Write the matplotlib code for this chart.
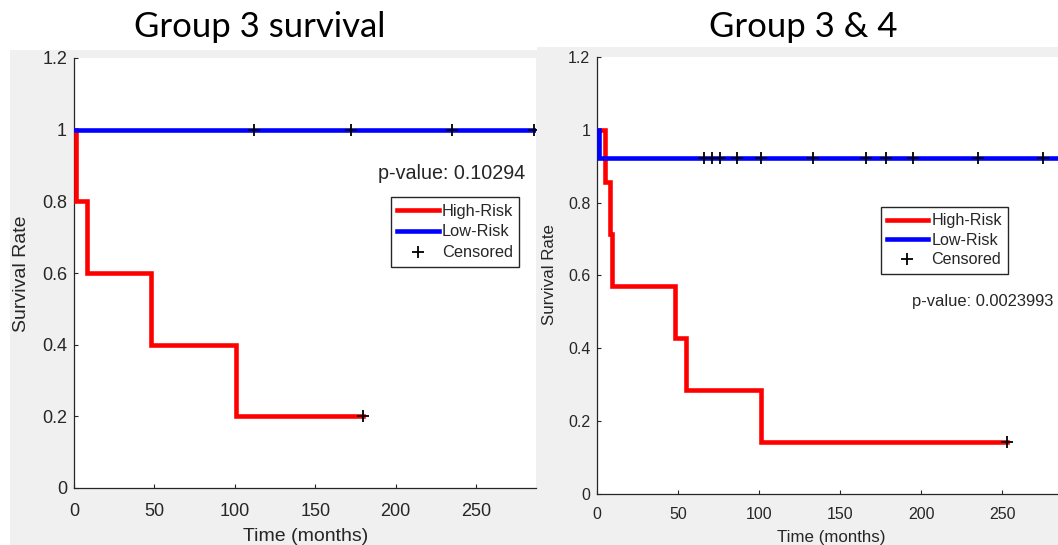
import matplotlib
matplotlib.use("Agg")
import matplotlib.pyplot as plt
from matplotlib.patches import Rectangle
from matplotlib.lines import Line2D

# Group 3 (left panel) - Kaplan-Meier steps
g3_high_times = [0, 1, 8, 48, 101]
g3_high_surv = [1.0, 0.8, 0.6, 0.4, 0.2]
g3_high_cens = [180]
g3_low_times = [0]
g3_low_surv = [1.0]
g3_low_cens = [112, 172, 235, 286]
g3_pvalue = "p-value: 0.10294"

# Group 3 & 4 (right panel)
g34_high_times = [0, 5, 8, 9, 48, 55, 101]
g34_high_surv = [1.0, 0.857, 0.714, 0.571, 0.429, 0.286, 0.143]
g34_high_cens = [253]
g34_low_times = [0, 1]
g34_low_surv = [1.0, 0.923]
g34_low_cens = [66, 71, 76, 86, 101, 133, 166, 178, 195, 235, 275, 290]
g34_pvalue = "p-value: 0.0023993"

xticks = [0, 50, 100, 150, 200, 250]
yticks = [0, 0.2, 0.4, 0.6, 0.8, 1.0, 1.2]
ytick_labels = ["0", "0.2", "0.4", "0.6", "0.8", "1", "1.2"]
legend_labels = ["High-Risk", "Low-Risk", "Censored"]

W, H = 1058, 545
GRAY = "#f0f0f0"
TXT = "#262626"
LW = 3.3
plt.rcParams["font.family"] = ["Liberation Sans", "DejaVu Sans"]


def km_curve(ax, times, surv, cens, color):
    end = max(cens)
    ax.step(times + [end], surv + [surv[-1]], where="post", color=color,
            lw=LW, solid_joinstyle="miter", zorder=3)
    cy = [surv[max(i for i, t in enumerate(times) if t <= c)] for c in cens]
    ax.plot(cens, cy, ls="none", marker="+", color="k", ms=8.5, mew=1.3, zorder=4)


def setup_panel(ax, xmax, fs_tick, fs_label, xpad, xlab_pos, ylab_pos):
    ax.set_xlim(0, xmax)
    ax.set_ylim(0, 1.2)
    ax.set_facecolor("white")
    for s in ["top", "right"]:
        ax.spines[s].set_visible(False)
    for s in ["left", "bottom"]:
        ax.spines[s].set_color(TXT)
        ax.spines[s].set_linewidth(0.9)
    ax.set_xticks(xticks)
    ax.set_yticks(yticks)
    ax.set_yticklabels(ytick_labels)
    ax.tick_params(direction="in", length=3, width=0.8, colors=TXT,
                   labelsize=fs_tick)
    ax.tick_params(axis="x", pad=xpad)
    ax.tick_params(axis="y", pad=5)
    ax.set_xlabel("Time (months)", fontsize=fs_label, color=TXT)
    ax.set_ylabel("Survival Rate", fontsize=fs_label, color=TXT)
    ax.xaxis.label.set_verticalalignment("center")
    ax.yaxis.label.set_verticalalignment("center")
    ax.xaxis.set_label_coords(*xlab_pos)
    ax.yaxis.set_label_coords(*ylab_pos)


def add_legend(ax, anchor, fs, spacing):
    handles = [Line2D([], [], color="red", lw=LW),
               Line2D([], [], color="blue", lw=LW),
               Line2D([], [], ls="none", marker="+", color="k", ms=8.5, mew=1.3)]
    leg = ax.legend(handles, legend_labels, loc="upper left",
                    bbox_to_anchor=anchor, bbox_transform=ax.figure.transFigure,
                    borderaxespad=0, fancybox=False, framealpha=1,
                    edgecolor=TXT, fontsize=fs, handlelength=2.55,
                    handletextpad=0.2, labelspacing=spacing, borderpad=0.38)
    leg.get_frame().set_linewidth(1.0)
    for t in leg.get_texts():
        t.set_color(TXT)


fig = plt.figure(figsize=(W / 100, H / 100), dpi=100)
fig.patch.set_facecolor("white")

# gray figure backgrounds of the two screenshots
fig.add_artist(Rectangle((10 / W, 0), 527 / W, 495 / H, transform=fig.transFigure,
                         facecolor=GRAY, edgecolor="none", zorder=-2))
fig.add_artist(Rectangle((537 / W, 0), 521 / W, 498 / H, transform=fig.transFigure,
                         facecolor=GRAY, edgecolor="none", zorder=-2))

# left panel
ax1 = fig.add_axes([74 / W, (H - 488) / H, 462 / W, 430 / H])
km_curve(ax1, g3_high_times, g3_high_surv, g3_high_cens, "red")
km_curve(ax1, g3_low_times, g3_low_surv, g3_low_cens, "blue")
setup_panel(ax1, 287.3, 13, 14, 11, (0.502, -0.113), (-0.114, 0.499))
ax1.text(189, 0.879, g3_pvalue, fontsize=14.2, color=TXT, va="center", ha="left")
add_legend(ax1, (390.7 / W, 1 - 197.3 / H), 11.8, 0.36)

# right panel
ax2 = fig.add_axes([597.3 / W, (H - 493.5) / H, 460.7 / W, 436.2 / H])
km_curve(ax2, g34_high_times, g34_high_surv, g34_high_cens, "red")
km_curve(ax2, g34_low_times, g34_low_surv, g34_low_cens, "blue")
setup_panel(ax2, 284.4, 11.5, 12.2, 10, (0.507, -0.102), (-0.103, 0.503))
ax2.text(194, 0.528, g34_pvalue, fontsize=11.9, color=TXT, va="center", ha="left")
add_legend(ax2, (880.7 / W, 1 - 207.3 / H), 11.6, 0.28)

# titles
fig.text(259.5 / W, 1 - 37 / H, "Group 3 survival", fontsize=25, family=["Lato", "DejaVu Sans"],
         ha="center", va="baseline", color="black")
fig.text(803 / W, 1 - 37 / H, "Group 3 & 4", fontsize=25, family=["Lato", "DejaVu Sans"],
         ha="center", va="baseline", color="black")

fig.savefig("out.png", dpi=100, facecolor="white")
